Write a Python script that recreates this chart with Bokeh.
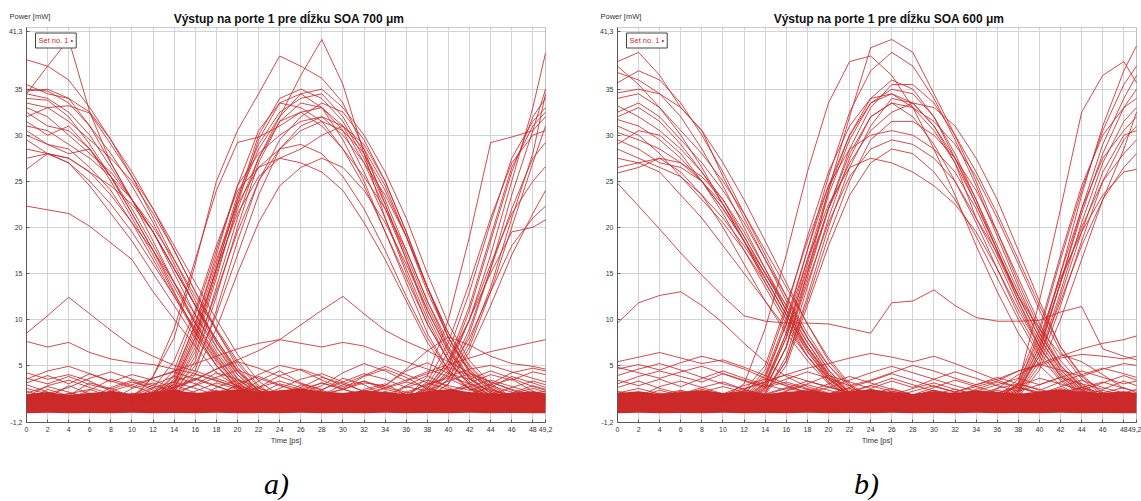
from bokeh.plotting import figure
from bokeh.models import Range1d, FixedTicker, Label, LinearAxis, BoxAnnotation
from bokeh.layouts import row
from bokeh.embed import file_html
from bokeh.resources import INLINE

# ---------------- shared axes ----------------
X_TICKS = [0, 2, 4, 6, 8, 10, 12, 14, 16, 18, 20, 22, 24, 26, 28, 30, 32, 34, 36, 38, 40, 42, 44, 46, 48, 49.2]
Y_TICKS = [-1.2, 5, 10, 15, 20, 25, 30, 35, 41.3]
X_LABEL_OVERRIDES = {49.2: "49,2"}
Y_LABEL_OVERRIDES = {-1.2: "-1,2", 41.3: "41,3"}
X_MIN, X_MAX = 0, 49.2
Y_MIN, Y_MAX = -1.2, 41.7

T_FALL = [0, 2, 4, 6, 8, 10, 12, 14, 16, 18, 20, 22, 24]
T_MID = [10, 12, 14, 16, 18, 20, 22, 24, 26, 28, 30, 32, 34, 36, 38, 40, 42, 44, 46, 48]
T_END = [34, 36, 38, 40, 42, 44, 46, 48, 49.2]
T_NOISE = [0, 2, 4, 6, 8, 10, 12, 14, 16, 18, 20, 22, 24, 26, 28, 30, 32, 34, 36, 38, 40, 42, 44, 46, 48, 49.2]

TITLE_A = "Výstup na porte 1 pre dĺžku SOA 700 μm"
TITLE_B = "Výstup na porte 1 pre dĺžku SOA 600 μm"
CAPTION_A = "a)"
CAPTION_B = "b)"
Y_NAME = "Power [mW]"
X_NAME = "Time [ps]"
LEGEND_TEXT = "Set no. 1 \u2022"

# ---------------- panel a) 700 um ----------------
FALL_A = [
    [38.2, 37.5, 36.0, 33.0, 29.5, 25.5, 21.0, 16.5, 12.0, 7.5, 4.0, 2.0, 1.1],
    [34.5, 37.5, 40.4, 32.5, 27.0, 23.0, 19.5, 15.0, 10.5, 6.5, 3.5, 1.8, 1.0],
    [35.0, 34.8, 33.5, 31.0, 28.0, 24.5, 20.5, 16.0, 11.5, 7.0, 3.6, 1.8, 1.0],
    [34.8, 35.0, 34.0, 31.0, 27.0, 23.0, 18.5, 14.0, 9.5, 5.8, 2.8, 1.5, 0.8],
    [34.5, 34.0, 32.5, 30.0, 26.5, 23.0, 19.5, 15.5, 11.5, 7.5, 4.3, 2.2, 1.2],
    [34.0, 33.8, 32.0, 29.0, 25.5, 21.5, 17.5, 13.0, 8.5, 5.0, 2.4, 1.2, 0.8],
    [33.5, 33.0, 31.5, 29.5, 27.5, 25.0, 21.5, 17.5, 13.0, 9.0, 5.5, 2.8, 1.4],
    [33.0, 32.0, 30.0, 28.0, 26.0, 23.0, 19.5, 15.5, 11.5, 7.8, 4.5, 2.3, 1.2],
    [32.5, 31.0, 30.5, 28.5, 25.5, 22.0, 18.0, 14.0, 9.8, 6.2, 3.2, 1.5, 0.9],
    [31.5, 30.0, 31.0, 28.5, 25.0, 21.0, 17.0, 12.8, 8.8, 5.4, 2.8, 1.5, 1.0],
    [31.0, 30.5, 29.0, 27.5, 25.5, 23.0, 20.0, 16.5, 12.5, 8.8, 5.2, 2.6, 1.4],
    [30.5, 29.0, 28.5, 26.5, 24.0, 20.5, 16.5, 12.5, 8.5, 5.0, 2.6, 1.4, 0.8],
    [30.0, 29.0, 28.0, 28.5, 25.5, 21.5, 17.5, 13.5, 9.5, 6.0, 3.2, 1.7, 1.0],
    [29.5, 28.0, 27.5, 26.0, 23.5, 20.5, 17.5, 14.0, 10.5, 7.0, 4.0, 2.0, 1.1],
    [28.5, 28.0, 27.0, 25.0, 22.5, 19.5, 16.0, 12.5, 9.0, 5.6, 3.0, 1.6, 0.9],
    [27.5, 28.0, 27.5, 26.0, 24.5, 22.5, 19.5, 15.5, 11.5, 7.8, 4.4, 2.3, 1.2],
    [26.3, 28.0, 27.0, 24.5, 21.5, 18.5, 15.0, 11.5, 8.0, 5.0, 2.6, 1.4, 0.8],
    [22.3, 21.9, 21.5, 20.1, 18.3, 16.5, 13.0, 10.0, 7.1, 4.2, 2.7, 1.5, 0.9],
    [35.5, 34.5, 34.0, 32.5, 29.5, 26.0, 22.0, 17.5, 13.0, 8.8, 4.8, 2.2, 1.0],
    [32.0, 33.0, 33.2, 32.4, 29.0, 25.5, 22.0, 18.0, 14.0, 10.0, 6.2, 3.3, 1.7],
]
MID_A = [
    [1.0, 1.5, 3.0, 8.0, 15.5, 23.0, 28.5, 32.0, 36.5, 40.4, 35.5, 28.0, 21.0, 15.0, 9.5, 5.5, 3.0, 1.8, 1.2, 1.0],
    [1.2, 3.8, 8.0, 16.0, 25.0, 30.5, 34.5, 38.6, 37.5, 36.2, 33.5, 28.5, 22.5, 16.5, 10.5, 6.0, 3.2, 1.8, 1.2, 0.9],
    [1.5, 3.8, 9.0, 16.5, 24.0, 29.2, 29.8, 31.0, 32.5, 33.0, 31.0, 27.0, 22.0, 16.5, 11.0, 6.5, 3.5, 2.0, 1.3, 1.0],
    [0.8, 1.2, 2.5, 7.0, 14.5, 22.5, 29.5, 33.5, 34.5, 33.0, 29.5, 25.0, 19.5, 14.0, 8.5, 4.5, 2.4, 1.4, 1.0, 0.8],
    [1.0, 1.5, 3.5, 9.0, 16.0, 23.5, 29.0, 32.5, 34.0, 34.5, 32.0, 28.0, 23.0, 17.5, 12.0, 7.0, 3.8, 2.0, 1.2, 0.9],
    [0.9, 1.0, 2.0, 5.5, 12.5, 20.0, 27.0, 31.5, 33.5, 33.0, 30.5, 26.0, 21.0, 15.5, 10.0, 5.5, 2.8, 1.5, 1.0, 0.8],
    [1.1, 2.0, 4.5, 10.5, 17.5, 24.5, 28.0, 30.0, 31.5, 32.0, 30.0, 27.0, 23.5, 19.0, 13.5, 8.0, 4.2, 2.2, 1.3, 1.0],
    [0.8, 1.0, 1.8, 4.5, 11.0, 18.5, 25.0, 29.5, 32.0, 33.5, 32.5, 29.5, 25.0, 19.5, 13.5, 8.0, 4.2, 2.2, 1.3, 0.9],
    [1.0, 1.8, 4.0, 9.5, 16.5, 22.5, 26.5, 28.5, 29.0, 28.0, 25.5, 22.0, 17.5, 12.5, 8.0, 4.5, 2.5, 1.5, 1.0, 0.8],
    [1.2, 1.5, 2.8, 7.5, 15.0, 22.0, 27.5, 31.5, 32.5, 31.0, 28.5, 25.5, 22.0, 17.5, 12.0, 7.5, 4.5, 2.5, 1.5, 1.0],
    [0.9, 1.2, 3.0, 8.0, 15.5, 21.5, 25.5, 27.5, 28.5, 30.0, 31.0, 29.0, 25.0, 19.5, 13.5, 8.5, 4.8, 2.6, 1.4, 1.0],
    [1.0, 1.4, 2.2, 5.0, 10.5, 17.0, 23.5, 28.5, 31.0, 32.0, 31.0, 28.5, 24.5, 19.0, 13.0, 8.0, 4.5, 2.4, 1.4, 1.0],
    [1.3, 2.5, 5.5, 11.0, 18.0, 24.0, 26.5, 27.5, 27.0, 26.0, 24.0, 20.5, 16.5, 12.0, 7.5, 4.2, 2.4, 1.4, 1.0, 0.8],
    [0.8, 1.0, 1.8, 4.0, 9.0, 15.0, 20.5, 24.5, 26.5, 27.5, 26.5, 24.0, 20.5, 16.0, 11.0, 6.5, 3.6, 2.0, 1.2, 0.9],
    [1.0, 1.6, 3.2, 8.5, 15.5, 23.0, 30.0, 34.0, 35.0, 34.0, 31.5, 27.5, 22.5, 17.0, 11.5, 6.8, 3.6, 2.0, 1.2, 0.9],
    [0.9, 1.2, 2.4, 6.0, 13.5, 21.0, 27.5, 32.0, 34.5, 35.0, 33.0, 30.0, 26.0, 21.0, 15.0, 9.5, 5.5, 3.0, 1.6, 1.0],
    [1.1, 1.8, 3.8, 9.5, 17.0, 24.5, 30.5, 33.5, 33.0, 31.5, 28.5, 24.5, 19.5, 14.5, 9.5, 5.5, 3.0, 1.7, 1.1, 0.9],
    [1.0, 1.3, 2.6, 6.5, 13.0, 19.5, 25.0, 28.5, 30.5, 31.5, 30.5, 28.0, 24.0, 19.0, 13.5, 8.5, 5.0, 2.8, 1.5, 1.0],
]
END_A = [
    [1.0, 1.2, 2.0, 4.5, 10.0, 17.0, 25.0, 33.0, 38.9],
    [1.0, 1.5, 3.8, 10.0, 19.0, 29.2, 29.8, 30.5, 32.0],
    [0.8, 1.0, 1.6, 3.5, 8.5, 15.5, 23.5, 30.5, 35.0],
    [0.9, 1.1, 2.2, 5.0, 11.0, 18.5, 26.0, 32.0, 34.0],
    [1.0, 1.3, 2.8, 6.5, 13.0, 20.5, 27.5, 31.5, 33.0],
    [0.8, 0.9, 1.4, 3.0, 7.0, 13.0, 20.0, 27.0, 31.0],
    [1.1, 1.6, 3.2, 7.5, 14.0, 21.0, 27.0, 30.0, 30.5],
    [0.9, 1.0, 1.8, 4.0, 9.0, 15.5, 22.0, 27.5, 29.2],
    [1.0, 1.2, 2.4, 5.0, 10.0, 16.0, 21.5, 25.0, 26.6],
    [0.8, 1.0, 1.5, 3.0, 6.5, 11.5, 17.0, 21.5, 24.0],
    [1.0, 1.4, 2.6, 5.5, 10.0, 15.0, 19.5, 20.0, 20.8],
    [0.9, 1.1, 2.0, 4.2, 8.0, 13.0, 18.0, 21.0, 22.3],
    [1.0, 1.3, 2.5, 5.5, 11.5, 19.0, 26.5, 31.0, 32.5],
    [0.8, 1.0, 1.8, 3.5, 7.5, 13.5, 21.0, 28.0, 34.5],
]
NOISE_A = [
    [8.5, 10.4, 12.4, 10.6, 8.8, 7.1, 6.0, 5.0, 4.4, 3.6, 2.8, 2.2, 1.8, 2.4, 1.9, 1.4, 2.1, 1.6, 1.2, 1.8, 1.4, 1.1, 1.6, 2.0, 1.5, 1.3],
    [7.6, 7.0, 7.5, 6.4, 5.7, 5.3, 5.1, 4.6, 4.1, 3.3, 2.6, 2.0, 1.6, 1.3, 1.9, 2.4, 1.8, 1.3, 1.0, 1.5, 2.1, 1.6, 1.2, 1.7, 1.4, 1.2],
    [1.5, 1.2, 1.8, 1.4, 1.1, 1.6, 2.0, 2.6, 3.5, 4.6, 5.6, 6.6, 7.8, 9.4, 11.0, 12.5, 10.6, 8.8, 7.6, 6.6, 5.4, 4.2, 3.2, 2.4, 1.8, 1.5],
    [1.0, 1.4, 1.1, 1.6, 2.2, 2.9, 3.6, 4.4, 5.2, 6.0, 6.8, 7.4, 7.8, 7.4, 7.0, 7.5, 7.1, 6.2, 5.4, 4.6, 3.8, 3.0, 2.3, 1.8, 1.4, 1.2],
    [1.2, 1.6, 1.3, 1.0, 1.5, 1.9, 1.4, 1.1, 1.7, 2.2, 1.6, 1.2, 1.8, 2.4, 2.0, 1.5, 1.9, 2.6, 3.4, 4.3, 5.1, 5.8, 6.5, 7.0, 7.5, 7.8],
    [1.3, 1.0, 1.5, 2.0, 1.4, 1.1, 1.6, 2.3, 1.8, 1.3, 1.9, 2.5, 1.9, 1.4, 1.8, 2.4, 3.1, 2.8, 4.6, 6.6, 8.1, 7.2, 6.0, 5.2, 4.9, 4.6],
    [2.2, 1.5, 2.8, 1.9, 1.2, 2.5, 3.1, 2.0, 1.4, 2.6, 3.4, 2.2, 1.6, 2.9, 2.1, 1.3, 2.4, 3.0, 1.8, 1.1, 2.3, 2.7, 1.5, 2.0, 2.8, 2.4],
    [3.6, 3.0, 3.8, 2.9, 2.4, 3.2, 2.6, 1.8, 2.9, 4.2, 3.5, 2.6, 3.9, 4.6, 3.8, 2.7, 3.3, 2.4, 1.9, 3.0, 3.6, 2.5, 1.8, 2.6, 3.3, 2.9],
    [1.2, 2.4, 1.7, 3.1, 2.5, 1.6, 1.2, 2.7, 3.6, 2.8, 1.9, 3.3, 4.4, 3.1, 2.3, 3.6, 2.9, 1.7, 2.8, 3.9, 2.6, 1.6, 2.9, 3.5, 2.2, 1.7],
    [4.2, 3.5, 4.0, 3.3, 2.2, 1.8, 2.9, 3.8, 3.0, 2.1, 2.7, 4.0, 5.0, 4.5, 3.4, 2.5, 3.8, 4.6, 3.7, 2.4, 2.0, 3.1, 4.0, 3.4, 4.3, 4.0],
    [0.8, 1.3, 2.0, 1.4, 2.6, 3.4, 2.3, 1.5, 2.2, 3.1, 2.4, 1.7, 2.5, 3.5, 4.1, 3.2, 2.1, 1.5, 2.7, 2.2, 3.3, 4.1, 3.2, 2.3, 1.6, 1.4],
    [2.9, 2.1, 1.4, 2.3, 3.5, 2.8, 2.0, 3.3, 4.0, 3.4, 2.6, 1.9, 3.0, 2.4, 1.8, 2.9, 3.9, 4.9, 4.0, 3.1, 2.4, 1.9, 2.6, 3.8, 3.1, 2.6],
    [1.6, 2.8, 3.4, 2.6, 1.9, 1.3, 2.2, 2.9, 2.0, 1.5, 3.0, 3.8, 2.9, 2.0, 2.8, 4.2, 5.2, 4.4, 3.3, 4.1, 4.8, 3.9, 2.8, 2.1, 1.5, 1.9],
    [3.1, 3.9, 3.0, 4.1, 3.3, 2.6, 3.6, 4.3, 3.5, 2.7, 2.0, 2.6, 3.3, 2.6, 3.7, 3.0, 2.2, 2.8, 4.4, 5.3, 4.1, 3.5, 4.4, 3.6, 2.7, 2.3],
    [0.9, 1.8, 1.1, 1.7, 1.0, 2.0, 1.3, 1.0, 1.9, 1.2, 2.1, 1.4, 1.0, 1.8, 2.3, 1.5, 1.1, 2.2, 1.4, 1.0, 1.7, 1.2, 2.0, 1.4, 1.1, 1.6],
    [2.5, 1.9, 2.6, 3.6, 4.3, 3.5, 2.8, 2.1, 2.8, 3.7, 4.5, 3.6, 2.8, 2.2, 3.1, 2.4, 3.3, 2.6, 2.1, 2.9, 3.8, 4.6, 5.0, 4.3, 3.6, 3.2],
    [1.4, 1.0, 1.9, 2.4, 1.6, 1.1, 1.7, 2.4, 1.6, 2.3, 1.5, 1.1, 1.9, 2.6, 1.7, 1.2, 2.0, 1.3, 2.1, 1.5, 1.0, 1.8, 1.2, 1.9, 2.5, 2.1],
    [3.5, 4.4, 4.9, 4.1, 3.2, 4.0, 3.4, 2.5, 3.4, 4.6, 5.4, 4.7, 3.8, 3.0, 2.4, 3.2, 4.1, 3.5, 2.6, 3.4, 2.8, 2.3, 3.0, 4.2, 4.7, 4.4],
    [0.6, 1.1, 0.8, 1.4, 0.9, 1.3, 0.7, 1.2, 0.9, 1.5, 1.0, 0.7, 1.2, 0.8, 1.4, 1.0, 0.7, 1.3, 0.9, 1.5, 1.1, 0.8, 1.3, 0.9, 1.2, 1.0],
    [2.0, 2.7, 2.1, 1.5, 2.2, 1.7, 2.6, 3.2, 2.5, 1.8, 1.4, 2.3, 1.7, 2.4, 3.1, 2.4, 1.8, 2.5, 3.2, 2.6, 1.9, 2.7, 3.4, 2.7, 2.0, 2.2],
]
BAND_TOP_A = [1.9, 2.1, 1.8, 2.0, 2.2, 1.9, 2.1, 2.3, 2.0, 2.2, 2.4, 2.1, 2.3, 2.5, 2.2, 2.0, 2.3, 2.1, 1.9, 2.2, 2.4, 2.1, 1.9, 2.0, 2.2, 2.0]
BAND_FLOOR_A = [-0.2, -0.15, -0.2, -0.18, -0.2, -0.15, -0.2, -0.18, -0.2, -0.15, -0.2, -0.18, -0.2, -0.15, -0.2, -0.18, -0.2, -0.15, -0.2, -0.18, -0.2, -0.15, -0.2, -0.18, -0.2, -0.2]

# ---------------- panel b) 600 um ----------------
FALL_B = [
    [38.0, 39.0, 36.5, 33.0, 30.5, 25.5, 21.0, 16.5, 12.0, 8.0, 4.5, 2.2, 1.1],
    [36.8, 36.0, 34.5, 33.0, 30.5, 27.0, 23.0, 18.5, 14.0, 9.5, 5.5, 2.8, 1.3],
    [35.7, 37.0, 36.0, 33.5, 30.0, 26.0, 21.5, 17.0, 12.5, 8.0, 4.5, 2.0, 1.0],
    [34.6, 35.0, 34.5, 32.0, 28.5, 24.5, 20.0, 15.5, 11.0, 7.0, 3.8, 1.8, 1.0],
    [34.0, 34.5, 33.0, 30.0, 26.5, 22.5, 18.5, 14.0, 10.0, 6.0, 3.2, 1.6, 0.9],
    [33.2, 32.0, 30.5, 28.5, 26.0, 23.0, 19.0, 15.0, 11.0, 7.5, 4.0, 2.0, 1.0],
    [32.5, 33.5, 32.0, 29.5, 27.0, 24.0, 20.5, 16.5, 12.5, 8.5, 5.0, 2.5, 1.2],
    [31.7, 31.0, 29.5, 27.5, 25.0, 22.0, 18.5, 14.5, 10.5, 6.5, 3.5, 1.7, 0.9],
    [31.0, 30.0, 28.0, 25.5, 23.0, 20.5, 17.5, 14.0, 10.0, 6.5, 3.5, 1.8, 1.0],
    [30.3, 29.5, 28.5, 27.0, 25.5, 23.0, 19.5, 15.5, 11.5, 7.5, 4.2, 2.0, 1.0],
    [29.5, 28.5, 27.0, 26.5, 25.0, 22.5, 19.0, 15.0, 11.0, 7.0, 3.8, 1.8, 0.9],
    [28.5, 27.5, 26.5, 25.5, 23.5, 21.0, 18.0, 14.5, 10.5, 7.0, 4.0, 2.0, 1.1],
    [27.5, 27.0, 27.5, 26.0, 23.5, 20.0, 16.0, 12.0, 8.5, 5.5, 3.0, 1.5, 0.8],
    [26.5, 27.0, 26.0, 23.5, 21.0, 18.0, 15.0, 12.0, 9.0, 6.0, 3.5, 1.8, 1.0],
    [25.9, 26.5, 27.5, 27.0, 25.0, 22.0, 18.5, 15.0, 11.5, 8.0, 5.0, 2.8, 1.4],
    [37.5, 35.5, 33.0, 30.5, 28.0, 25.0, 21.5, 17.5, 13.5, 9.5, 5.8, 3.0, 1.5],
    [32.0, 33.0, 31.5, 29.0, 26.0, 22.5, 18.5, 14.5, 10.5, 6.8, 3.6, 1.8, 1.0],
    [29.0, 30.5, 30.0, 28.0, 25.0, 21.5, 17.5, 13.5, 9.5, 6.0, 3.2, 1.6, 0.9],
]
MID_B = [
    [1.0, 1.2, 2.5, 7.0, 15.0, 24.0, 32.0, 39.5, 40.4, 39.0, 34.5, 30.0, 25.0, 19.5, 14.0, 9.0, 5.0, 2.8, 1.6, 1.0],
    [1.5, 3.0, 9.0, 17.0, 26.0, 33.5, 38.0, 38.6, 36.5, 33.0, 28.5, 23.5, 18.0, 13.0, 8.5, 5.0, 2.8, 1.6, 1.0, 0.8],
    [1.0, 1.5, 3.5, 9.5, 17.5, 25.5, 32.5, 37.0, 39.0, 37.5, 34.0, 29.5, 24.5, 19.0, 13.5, 8.5, 4.8, 2.6, 1.4, 1.0],
    [0.9, 1.2, 2.8, 8.0, 16.0, 23.5, 29.5, 33.5, 35.0, 34.5, 32.0, 28.0, 23.0, 17.5, 12.0, 7.0, 3.8, 2.0, 1.2, 0.9],
    [1.1, 1.8, 4.5, 11.0, 19.0, 26.0, 31.0, 34.0, 34.5, 33.0, 30.5, 27.0, 22.5, 17.5, 12.5, 8.0, 4.5, 2.4, 1.3, 1.0],
    [0.8, 1.0, 2.0, 6.0, 13.5, 21.0, 27.5, 32.0, 33.5, 33.0, 31.5, 29.0, 25.5, 21.0, 16.0, 11.0, 6.5, 3.5, 1.8, 1.0],
    [1.0, 1.4, 3.2, 8.5, 15.5, 22.0, 27.0, 30.5, 32.5, 33.5, 33.0, 31.0, 27.5, 23.0, 17.5, 12.0, 7.0, 3.8, 2.0, 1.1],
    [1.2, 2.2, 5.0, 11.5, 18.5, 24.5, 28.5, 30.0, 30.5, 30.0, 28.5, 26.0, 22.0, 17.0, 12.0, 7.5, 4.2, 2.3, 1.3, 0.9],
    [0.9, 1.1, 2.4, 7.0, 14.0, 20.5, 25.5, 28.5, 29.5, 29.0, 27.5, 25.0, 21.0, 16.5, 11.5, 7.0, 3.8, 2.0, 1.2, 0.9],
    [1.0, 1.6, 3.8, 9.5, 16.5, 22.5, 26.5, 27.5, 27.0, 26.0, 24.5, 22.5, 19.5, 15.5, 11.0, 7.0, 4.0, 2.2, 1.3, 1.0],
    [0.8, 1.0, 1.8, 5.0, 11.5, 18.0, 23.5, 27.0, 28.5, 28.0, 26.0, 23.0, 19.0, 14.5, 10.0, 6.0, 3.3, 1.8, 1.1, 0.8],
    [1.1, 1.5, 3.0, 8.0, 15.0, 22.0, 28.0, 32.0, 33.5, 32.0, 29.0, 25.0, 20.5, 15.5, 10.5, 6.5, 3.5, 1.9, 1.1, 0.9],
    [1.0, 1.3, 2.6, 7.0, 14.5, 22.0, 28.5, 33.0, 35.5, 35.5, 33.5, 30.0, 26.0, 21.5, 16.5, 11.5, 7.0, 4.0, 2.0, 1.1],
    [0.9, 1.2, 3.0, 8.5, 16.5, 24.0, 30.0, 34.0, 36.0, 35.0, 32.0, 27.5, 22.5, 17.5, 12.5, 8.0, 4.5, 2.4, 1.3, 0.9],
    [1.0, 1.4, 2.2, 5.5, 12.0, 19.0, 25.0, 29.5, 31.5, 31.5, 30.0, 27.5, 24.0, 19.5, 14.5, 9.5, 5.5, 3.0, 1.6, 1.0],
    [1.2, 2.0, 4.0, 10.0, 17.5, 24.5, 30.0, 33.5, 34.5, 33.5, 31.0, 27.5, 23.0, 18.0, 13.0, 8.5, 5.0, 2.7, 1.5, 1.0],
    [0.9, 1.1, 2.0, 5.5, 12.5, 20.0, 26.5, 31.0, 34.0, 33.5, 31.0, 27.0, 21.0, 17.2, 12.5, 9.0, 6.2, 5.4, 4.0, 2.5],
]
END_B = [
    [1.0, 1.5, 3.0, 12.0, 22.0, 32.5, 36.5, 38.0, 35.7],
    [0.9, 1.2, 2.4, 7.0, 15.0, 23.5, 31.0, 37.0, 39.7],
    [1.0, 1.3, 3.0, 8.5, 16.5, 24.0, 30.5, 35.5, 37.5],
    [0.8, 1.0, 2.0, 6.5, 14.0, 21.5, 28.0, 33.0, 35.0],
    [1.1, 1.6, 3.5, 9.0, 17.0, 24.5, 30.0, 33.0, 34.0],
    [0.9, 1.1, 2.2, 6.0, 13.0, 20.5, 27.0, 31.5, 33.0],
    [1.0, 1.4, 2.8, 7.5, 15.0, 22.0, 27.5, 30.5, 32.0],
    [0.8, 1.0, 1.8, 5.0, 11.5, 18.5, 25.0, 29.5, 31.0],
    [1.0, 1.3, 2.6, 7.0, 14.0, 20.0, 25.0, 28.0, 29.5],
    [0.9, 1.2, 2.4, 6.0, 12.0, 18.0, 23.0, 26.5, 28.0],
    [1.0, 1.5, 3.0, 8.0, 14.5, 19.5, 23.5, 26.0, 26.3],
    [0.8, 1.0, 1.6, 4.5, 10.0, 16.5, 23.0, 28.5, 32.5],
    [1.0, 1.2, 2.2, 6.5, 14.0, 22.0, 29.0, 34.0, 36.5],
    [0.9, 1.1, 2.0, 5.5, 12.5, 19.5, 26.0, 30.0, 30.5],
]
NOISE_B = [
    [9.6, 11.8, 12.6, 13.0, 11.5, 9.6, 7.4, 5.4, 3.8, 2.7, 2.0, 1.6, 2.2, 1.7, 1.3, 1.9, 2.4, 1.8, 1.4, 2.0, 1.5, 1.2, 1.8, 2.3, 1.7, 1.5],
    [24.8, 22.3, 19.8, 17.2, 14.8, 12.5, 10.4, 9.8, 9.6, 9.6, 9.5, 9.0, 8.5, 11.8, 12.0, 13.2, 11.5, 10.2, 9.8, 9.8, 9.9, 10.8, 11.4, 6.8, 6.0, 5.6],
    [5.4, 5.9, 6.4, 5.8, 5.2, 5.6, 4.8, 3.9, 3.0, 2.4, 1.9, 2.5, 2.0, 1.5, 2.2, 2.8, 2.1, 1.6, 2.3, 1.8, 1.4, 2.1, 2.6, 2.0, 1.6, 1.8],
    [4.6, 5.1, 4.5, 5.3, 6.0, 5.4, 4.6, 3.6, 2.8, 2.0, 1.6, 2.2, 2.8, 2.2, 1.7, 2.3, 1.8, 1.4, 2.0, 2.6, 2.1, 1.6, 2.2, 1.8, 1.5, 1.9],
    [1.5, 1.2, 1.8, 2.3, 1.7, 1.3, 1.9, 1.5, 2.1, 1.6, 1.2, 1.8, 2.4, 1.9, 1.4, 2.0, 1.6, 1.3, 2.5, 4.0, 5.2, 6.0, 6.8, 7.4, 7.8, 8.2],
    [1.8, 1.4, 2.0, 1.6, 1.2, 1.7, 2.3, 1.8, 1.4, 2.0, 2.6, 2.1, 1.6, 2.2, 1.8, 1.4, 2.1, 2.7, 3.3, 4.4, 5.0, 5.8, 6.2, 6.0, 5.7, 6.0],
    [1.2, 1.7, 1.3, 1.9, 2.4, 1.8, 2.5, 3.2, 4.0, 4.7, 5.2, 5.8, 6.3, 5.9, 5.4, 6.0, 5.2, 4.3, 3.4, 2.6, 2.0, 1.6, 2.1, 1.7, 1.4, 1.6],
    [3.0, 3.8, 4.4, 3.8, 3.2, 4.1, 3.4, 2.7, 3.5, 4.3, 3.6, 2.8, 3.4, 4.2, 5.0, 4.4, 3.6, 2.9, 3.5, 4.4, 5.1, 4.5, 3.8, 4.6, 5.2, 5.0],
    [2.2, 1.6, 2.7, 3.3, 2.6, 1.9, 2.8, 3.5, 2.8, 2.1, 3.0, 3.8, 3.1, 2.4, 1.8, 2.6, 3.4, 2.7, 2.0, 2.8, 3.6, 3.0, 2.3, 3.1, 3.9, 3.4],
    [4.8, 4.2, 3.6, 4.3, 4.9, 4.1, 3.3, 2.6, 3.2, 2.5, 1.9, 2.6, 3.3, 4.1, 3.4, 2.7, 2.1, 2.9, 3.7, 3.0, 2.3, 3.2, 4.0, 4.7, 4.1, 3.7],
    [1.0, 1.6, 2.3, 1.7, 1.2, 1.8, 1.3, 1.9, 2.6, 2.0, 1.4, 2.1, 1.6, 1.1, 1.7, 2.3, 1.7, 1.2, 1.8, 1.3, 1.9, 2.5, 1.9, 1.4, 2.0, 1.7],
    [3.4, 2.8, 3.5, 2.7, 3.6, 4.4, 3.6, 2.9, 2.3, 3.0, 3.9, 3.2, 2.5, 3.3, 2.6, 3.5, 4.3, 3.6, 2.8, 2.2, 2.9, 3.7, 3.0, 2.4, 3.3, 2.8],
    [2.6, 3.3, 2.5, 1.9, 2.6, 3.2, 2.4, 1.8, 2.5, 3.3, 2.7, 2.0, 2.8, 3.6, 2.9, 2.2, 1.7, 2.4, 3.2, 2.6, 1.9, 2.7, 3.4, 2.6, 2.0, 2.4],
    [0.8, 1.3, 0.9, 1.5, 1.0, 1.4, 0.8, 1.3, 1.0, 1.6, 1.1, 0.8, 1.3, 0.9, 1.5, 1.1, 0.8, 1.4, 1.0, 1.6, 1.2, 0.9, 1.4, 1.0, 1.3, 1.1],
    [2.0, 2.5, 1.9, 1.4, 2.1, 2.7, 2.1, 1.6, 2.2, 2.9, 2.3, 1.7, 2.3, 1.8, 2.5, 3.1, 2.4, 1.8, 2.5, 3.0, 2.4, 1.8, 2.6, 3.2, 2.5, 2.2],
    [3.9, 4.6, 5.2, 4.5, 3.7, 3.0, 2.4, 3.2, 4.0, 3.3, 2.6, 3.4, 4.2, 4.9, 4.2, 3.5, 2.8, 2.2, 2.9, 3.6, 2.9, 3.7, 4.4, 3.7, 3.0, 3.3],
    [1.4, 1.1, 1.6, 2.2, 1.6, 1.2, 1.7, 1.3, 1.8, 2.4, 1.7, 1.3, 1.9, 2.5, 1.8, 1.3, 1.9, 1.5, 2.1, 1.6, 1.2, 1.8, 1.4, 2.0, 2.6, 2.0],
]
BAND_TOP_B = [2.0, 2.2, 1.9, 2.1, 2.3, 2.0, 2.2, 1.9, 2.1, 2.3, 2.0, 2.2, 2.4, 2.1, 1.9, 2.2, 2.0, 2.3, 2.1, 1.9, 2.2, 2.4, 2.1, 2.0, 2.2, 2.0]
BAND_FLOOR_B = [-0.2, -0.15, -0.2, -0.18, -0.2, -0.15, -0.2, -0.18, -0.2, -0.15, -0.2, -0.18, -0.2, -0.15, -0.2, -0.18, -0.2, -0.15, -0.2, -0.18, -0.2, -0.15, -0.2, -0.18, -0.2, -0.2]

RED = "#cc2a2a"
GRID = "#d0d3d9"
FRAME = "#5a5a5a"
TXT = "#333333"
FONT = "Liberation Sans"

H = 501
PX_PER_X = 519 / (X_MAX - X_MIN)   # plot box is 519 px wide
PX_PER_Y = 395 / (Y_MAX - Y_MIN)   # plot box is 395 px tall
BOX_LEFT, BOX_TOP = 26, 27          # plot box offset inside each canvas


def panel(title, title_x, caption, caption_x, fall, mid, end, noise, band_top, band_floor, width):
    # the whole canvas is the frame; the axes sit at fixed data locations
    x0 = X_MIN - BOX_LEFT / PX_PER_X
    x1 = X_MAX + (width - BOX_LEFT - 519) / PX_PER_X
    y1 = Y_MAX + BOX_TOP / PX_PER_Y
    y0 = Y_MIN - (H - BOX_TOP - 395) / PX_PER_Y
    p = figure(width=width, height=H, output_backend="svg", toolbar_location=None,
               x_range=Range1d(x0, x1), y_range=Range1d(y0, y1),
               x_axis_location=None, y_axis_location=None,
               min_border=0, min_border_left=0, min_border_right=0,
               min_border_top=0, min_border_bottom=0)
    p.background_fill_color = "white"
    p.border_fill_color = "white"
    p.outline_line_color = None

    xaxis = LinearAxis(fixed_location=Y_MIN, bounds=(X_MIN, X_MAX))
    yaxis = LinearAxis(fixed_location=X_MIN, bounds=(Y_MIN, Y_MAX))
    for ax, ticks, over in ((xaxis, X_TICKS, X_LABEL_OVERRIDES), (yaxis, Y_TICKS, Y_LABEL_OVERRIDES)):
        ax.ticker = FixedTicker(ticks=ticks)
        ax.major_label_overrides = over
        ax.axis_line_color = FRAME
        ax.major_tick_line_color = FRAME
        ax.major_tick_in = 3
        ax.major_tick_out = 0
        ax.minor_tick_line_color = None
        ax.major_label_text_font = FONT
        ax.major_label_text_font_size = "7px"
        ax.major_label_text_color = TXT
        ax.major_label_standoff = 4
    p.add_layout(xaxis, "below")
    p.add_layout(yaxis, "left")

    p.xgrid.ticker = FixedTicker(ticks=X_TICKS)
    p.ygrid.ticker = FixedTicker(ticks=Y_TICKS)
    p.xgrid.grid_line_color = GRID
    p.ygrid.grid_line_color = GRID

    # white masks so the grid stays inside the plot box
    for kw in (dict(bottom=Y_MAX, top=y1 + 5, left=x0 - 5, right=x1 + 5),
               dict(bottom=y0 - 5, top=Y_MIN, left=x0 - 5, right=x1 + 5),
               dict(bottom=y0 - 5, top=y1 + 5, left=x0 - 5, right=X_MIN),
               dict(bottom=y0 - 5, top=y1 + 5, left=X_MAX, right=x1 + 5)):
        p.add_layout(BoxAnnotation(fill_color="white", fill_alpha=1.0, line_color=None,
                                   level="underlay", **kw))

    # traces
    p.varea(x=T_NOISE, y1=band_floor, y2=band_top, fill_color=RED, fill_alpha=1.0)
    p.multi_line(xs=[T_NOISE] * len(noise), ys=noise, line_color=RED, line_width=1, line_alpha=0.85)
    p.multi_line(xs=[T_FALL] * len(fall), ys=fall, line_color=RED, line_width=1, line_alpha=0.85)
    p.multi_line(xs=[T_MID] * len(mid), ys=mid, line_color=RED, line_width=1, line_alpha=0.85)
    p.multi_line(xs=[T_END] * len(end), ys=end, line_color=RED, line_width=1, line_alpha=0.85)

    # plot box border
    p.add_layout(BoxAnnotation(left=X_MIN, right=X_MAX, bottom=Y_MIN, top=Y_MAX,
                               fill_alpha=0, line_color=FRAME, line_width=1))

    # texts (screen units from the canvas bottom-left); lift compensates the svg baseline drop
    def lab(x, y_top, text, size, **kw):
        lift = round(0.34 * size)
        p.add_layout(Label(x=x, y=H - y_top + lift, x_units="screen", y_units="screen",
                           text=text, text_baseline="alphabetic",
                           text_font_size=f"{size}px", **kw))

    lab(title_x, 22, title, 12, text_font=FONT, text_font_style="bold",
        text_color="#111111", text_align="center")
    lab(9, 19, Y_NAME, 7.5, text_font=FONT, text_color=TXT, text_align="left")
    lab(BOX_LEFT + 259.5, 443, X_NAME, 7.5, text_font=FONT, text_color=TXT, text_align="center")
    lab(caption_x, 493, caption, 30, text_font="Liberation Serif",
        text_font_style="italic", text_color="black", text_align="center")
    lab(BOX_LEFT + 9, 43, LEGEND_TEXT, 7.5, text_font=FONT, text_color=RED,
        text_align="left", border_line_color="#444444", border_line_width=1,
        background_fill_color="white", padding=3)
    return p


pa = panel(TITLE_A, 288.5, CAPTION_A, 276, FALL_A, MID_A, END_A, NOISE_A, BAND_TOP_A, BAND_FLOOR_A, 591)
pb = panel(TITLE_B, 297.5, CAPTION_B, 275, FALL_B, MID_B, END_B, NOISE_B, BAND_TOP_B, BAND_FLOOR_B, 550)
layout = row(pa, pb)

with open("out.html", "w") as f:
    f.write(file_html(layout, INLINE))
